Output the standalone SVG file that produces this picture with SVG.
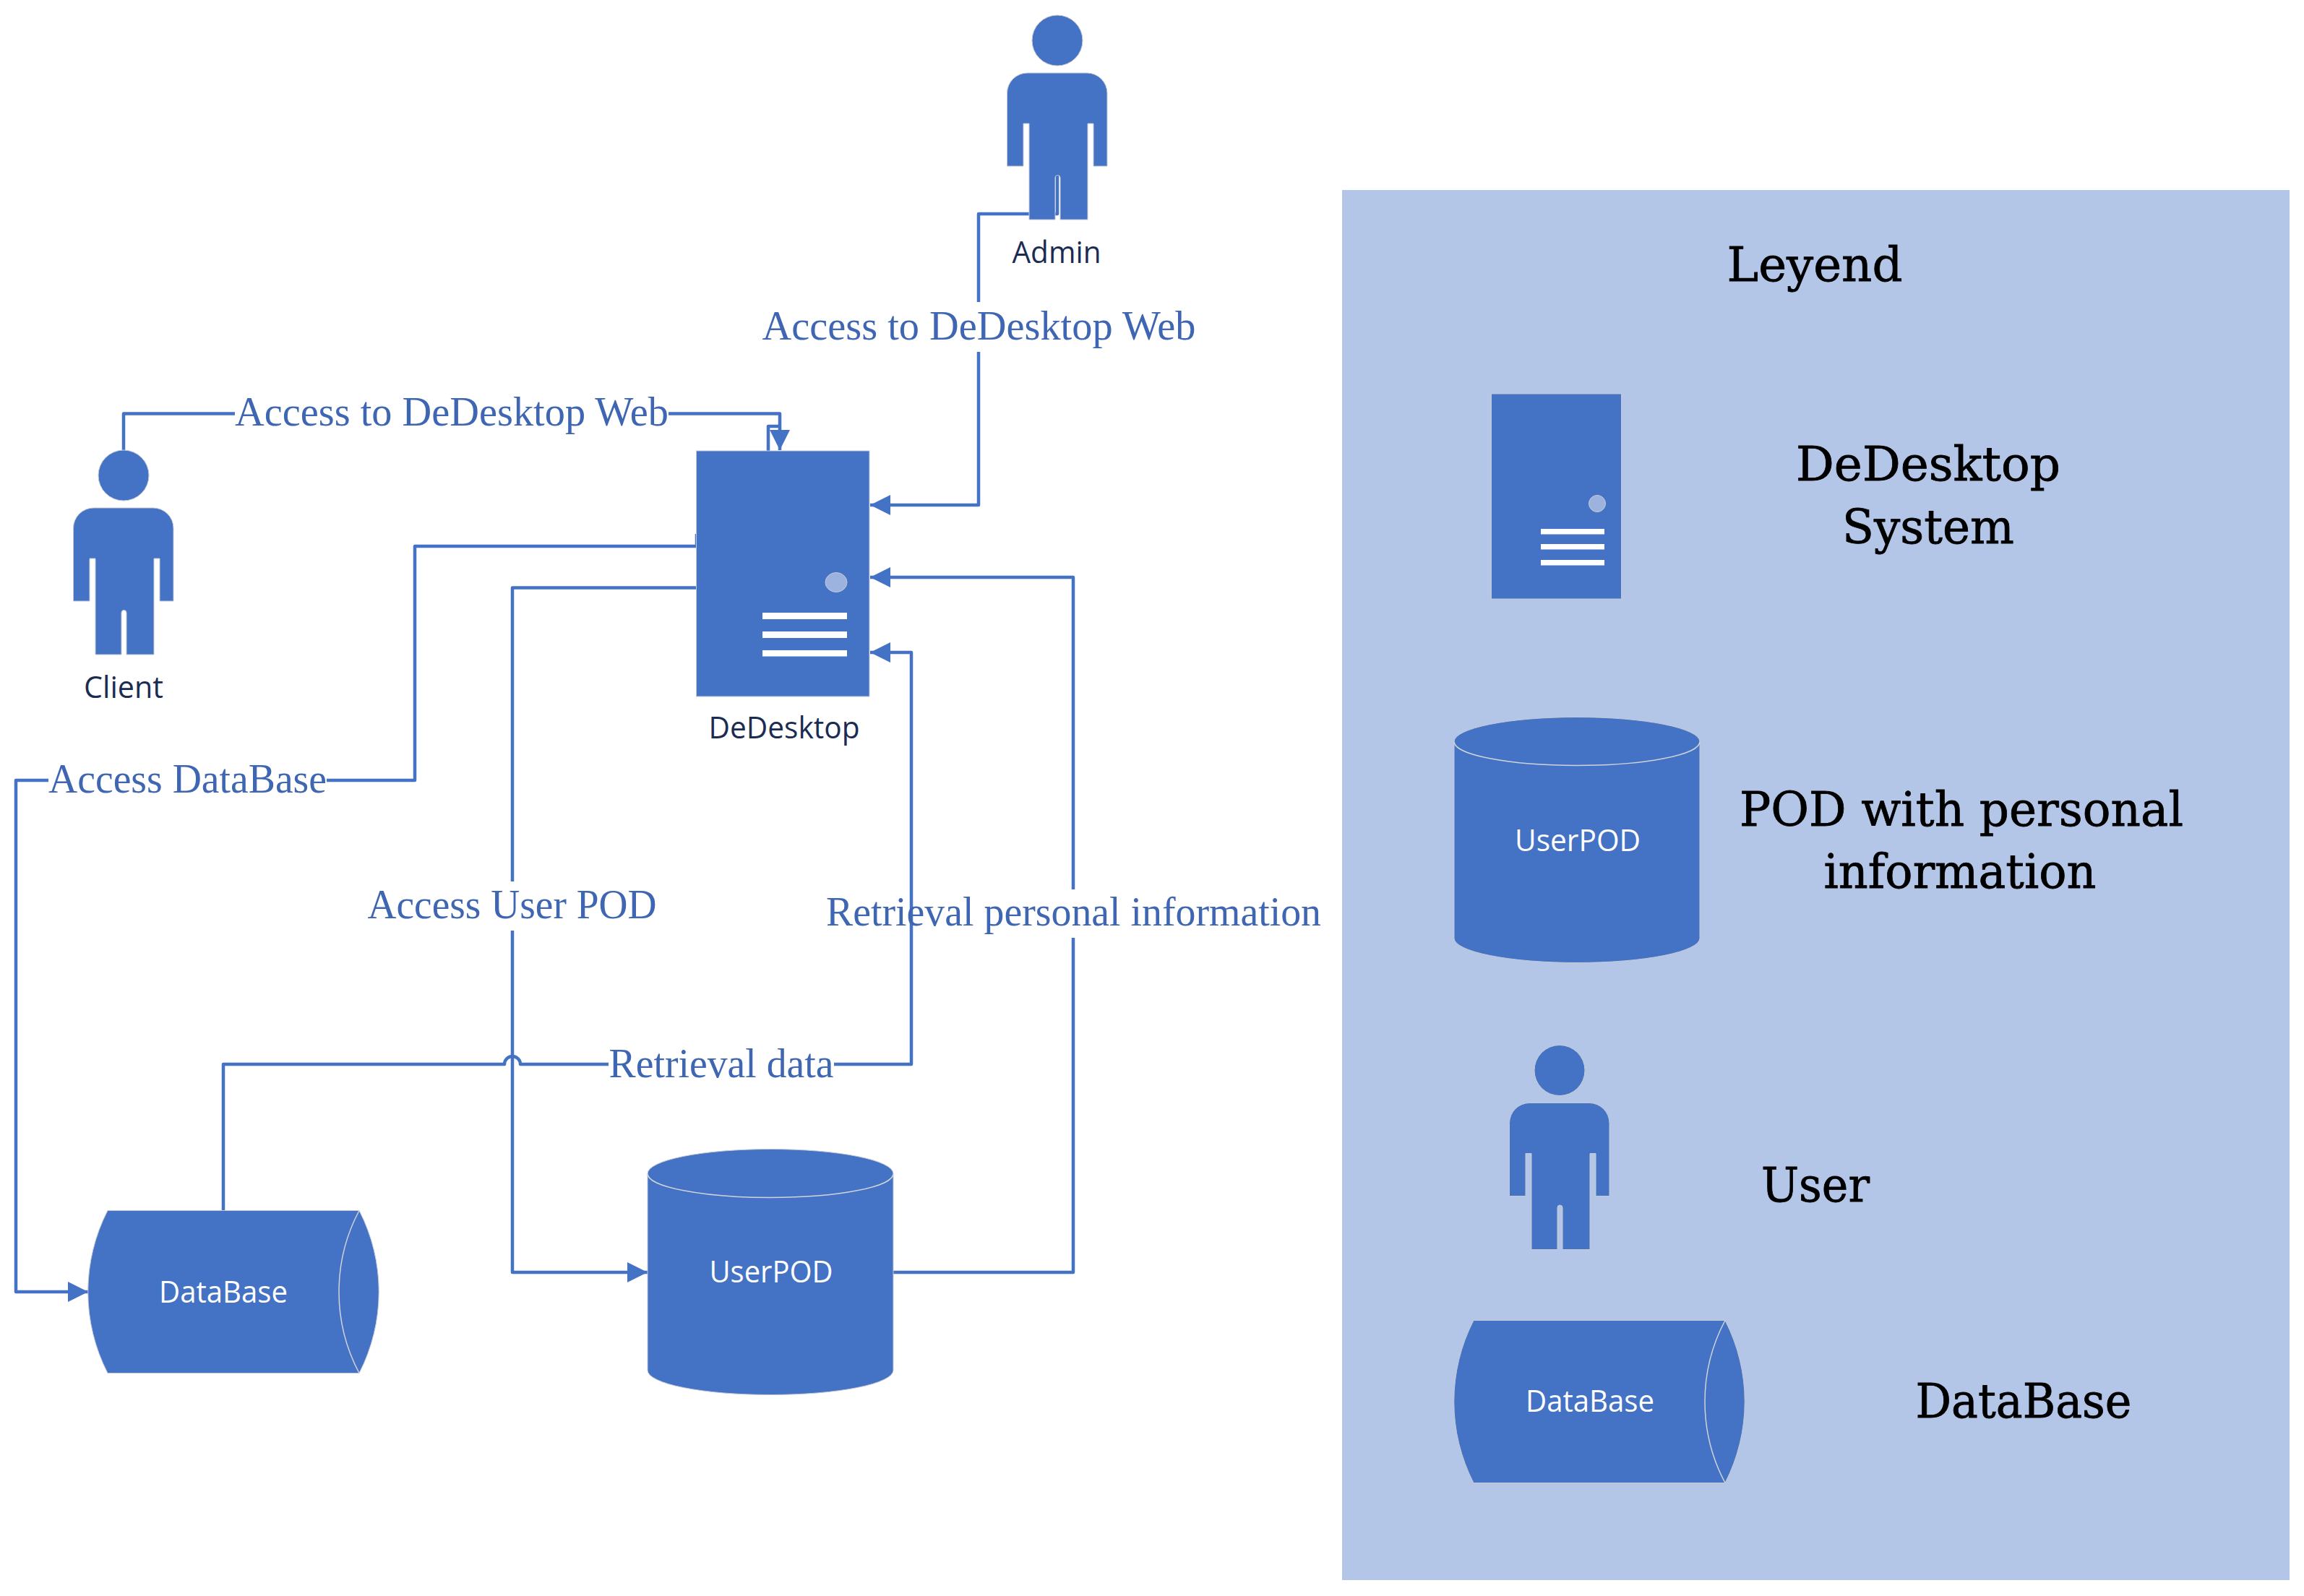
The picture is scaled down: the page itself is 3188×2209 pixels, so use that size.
<svg xmlns="http://www.w3.org/2000/svg" xmlns:xlink="http://www.w3.org/1999/xlink" width="3188" height="2209" viewBox="0 0 3188 2209">
<style>
.shape{fill:#4472C4;stroke:#c4cad4;stroke-width:1}
.rim{fill:none;stroke:#cfd3da;stroke-width:1.5}
.bar{fill:#fff}
.dot{fill:#9CB3E0;stroke:#c4cad4;stroke-width:1}
.conn{fill:none;stroke:#4472C4;stroke-width:4.5;stroke-linejoin:round}
.lbl{font-family:"Liberation Serif",serif;font-size:56px;fill:#3F66B2;text-anchor:middle}
.nm{font-family:"Open Sans","Noto Sans",sans-serif;font-size:42px;text-anchor:middle}
.dark{fill:#1B2C52}
.white{fill:#fff}
.leg{font-family:"DejaVu Serif","Liberation Serif",serif;font-size:65px;fill:#000;stroke:#000;stroke-width:.8;text-anchor:middle}
</style>
<defs>
<marker id="arrow" markerUnits="userSpaceOnUse" markerWidth="30" markerHeight="30" refX="28" refY="14" orient="auto">
<path d="M0,0 L28,14 L0,28 Z" fill="#4472C4"/>
</marker>
<g id="person">
<circle class="shape" cx="0" cy="0" r="35"/>
<path class="shape" d="M-69.5,174 V73 A28,28 0 0 1 -41.5,45 H41 A28,28 0 0 1 69,73 V174 H50 V115 H42 V248 H4 V190 A3.5,3.5 0 0 0 -3,190 V248 H-39 V115 H-47 V174 Z"/>
</g>
<g id="drum">
<path class="shape" d="M149,1675.5 H497 A246,246 0 0 1 497,1900.5 H149 A246,246 0 0 1 149,1675.5 Z"/>
<path class="rim" d="M497,1675.5 A240,240 0 0 0 497,1900.5"/>
</g>
<g id="cyl">
<path class="shape" d="M896,1624.5 A170,34 0 0 1 1236,1624.5 V1896.5 A170,34 0 0 1 896,1896.5 Z"/>
<path class="rim" d="M896,1624.5 A170,33 0 0 0 1236,1624.5"/>
</g>
</defs>
<rect width="3188" height="2209" fill="#fff"/>
<g id="legend">
<rect x="1857" y="263" width="1311" height="1924" fill="#B4C6E7"/>
<text class="leg" x="2511" y="389" textLength="243" lengthAdjust="spacingAndGlyphs">Leyend</text>
<text class="leg" x="2668" y="665" textLength="366" lengthAdjust="spacingAndGlyphs">DeDesktop</text>
<text class="leg" x="2668" y="752" textLength="238" lengthAdjust="spacingAndGlyphs">System</text>
<text class="leg" x="2714" y="1143" textLength="614" lengthAdjust="spacingAndGlyphs">POD with personal</text>
<text class="leg" x="2712" y="1229" textLength="377" lengthAdjust="spacingAndGlyphs">information</text>
<text class="leg" x="2512" y="1663" textLength="150" lengthAdjust="spacingAndGlyphs">User</text>
<text class="leg" x="2800" y="1962" textLength="299" lengthAdjust="spacingAndGlyphs">DataBase</text>
<g id="legend-server">
<rect class="shape" x="2063.5" y="545" width="180" height="284"/>
<ellipse class="dot" cx="2210" cy="697" rx="11.5" ry="11.5"/>
<rect class="bar" x="2132" y="732" width="88" height="7.5"/>
<rect class="bar" x="2132" y="753" width="88" height="7.5"/>
<rect class="bar" x="2132" y="775" width="88" height="7.5"/>
</g>
<g id="legend-pod">
<use href="#cyl" x="1116" y="-598"/>
<text class="nm white" x="2183" y="1178" textLength="174" lengthAdjust="spacingAndGlyphs">UserPOD</text>
</g>
<g id="legend-user"><use href="#person" x="2158" y="1481.5"/></g>
<g id="legend-db">
<use href="#drum" x="1890" y="152"/>
<text class="nm white" x="2200" y="1954" textLength="178" lengthAdjust="spacingAndGlyphs">DataBase</text>
</g>
</g>
<g id="connectors">
<path class="conn" d="M171,624 V572.5 H325"/>
<path class="conn" d="M925,572.5 H1079 V623" marker-end="url(#arrow)"/>
<path class="conn" d="M1063,624 V590 H1079"/>
<path class="conn" d="M1463,242 V296 H1354 V418"/>
<path class="conn" d="M1354,487 V699 H1204" marker-end="url(#arrow)"/>
<path class="conn" d="M964,739 V756 H574 V1080 H452"/>
<path class="conn" d="M67,1080 H22 V1788 H122" marker-end="url(#arrow)"/>
<path class="conn" d="M964,813.5 H709 V1220"/>
<path class="conn" d="M709,1288 V1761 H896" marker-end="url(#arrow)"/>
<path class="conn" d="M309,1677 V1473 H698 A11,11 0 0 1 720,1473 H842"/>
<path class="conn" d="M1154,1473 H1261 V903 H1204" marker-end="url(#arrow)"/>
<path class="conn" d="M1236,1761 H1485 V1298"/>
<path class="conn" d="M1485,1231 V799 H1204" marker-end="url(#arrow)"/>
</g>
<g id="connector-labels">
<text class="lbl" x="625" y="589" textLength="600" lengthAdjust="spacingAndGlyphs">Access to DeDesktop Web</text>
<text class="lbl" x="1354.5" y="470" textLength="600" lengthAdjust="spacingAndGlyphs">Access to DeDesktop Web</text>
<text class="lbl" x="259.5" y="1097" textLength="385" lengthAdjust="spacingAndGlyphs">Access DataBase</text>
<text class="lbl" x="708.5" y="1271" textLength="400" lengthAdjust="spacingAndGlyphs">Access User POD</text>
<text class="lbl" x="1485.5" y="1281" textLength="685" lengthAdjust="spacingAndGlyphs">Retrieval personal information</text>
<text class="lbl" x="998" y="1491" textLength="311" lengthAdjust="spacingAndGlyphs">Retrieval data</text>
</g>
<g id="admin">
<use href="#person" x="1463" y="56"/>
<text class="nm dark" x="1462" y="364" textLength="123" lengthAdjust="spacingAndGlyphs">Admin</text>
</g>
<g id="client">
<use href="#person" x="171" y="658"/>
<text class="nm dark" x="171" y="966" textLength="110" lengthAdjust="spacingAndGlyphs">Client</text>
</g>
<g id="dedesktop">
<rect class="shape" x="963.5" y="624" width="239.5" height="340"/>
<ellipse class="dot" cx="1157" cy="806" rx="15" ry="13.5"/>
<rect class="bar" x="1055" y="848" width="117" height="9"/>
<rect class="bar" x="1055" y="874" width="117" height="9"/>
<rect class="bar" x="1055" y="900" width="117" height="8.5"/>
<text class="nm dark" x="1085" y="1022" textLength="209" lengthAdjust="spacingAndGlyphs">DeDesktop</text>
</g>
<g id="database">
<use href="#drum"/>
<text class="nm white" x="309" y="1803" textLength="178" lengthAdjust="spacingAndGlyphs">DataBase</text>
</g>
<g id="userpod">
<use href="#cyl"/>
<text class="nm white" x="1067" y="1775" textLength="171" lengthAdjust="spacingAndGlyphs">UserPOD</text>
</g>
</svg>
